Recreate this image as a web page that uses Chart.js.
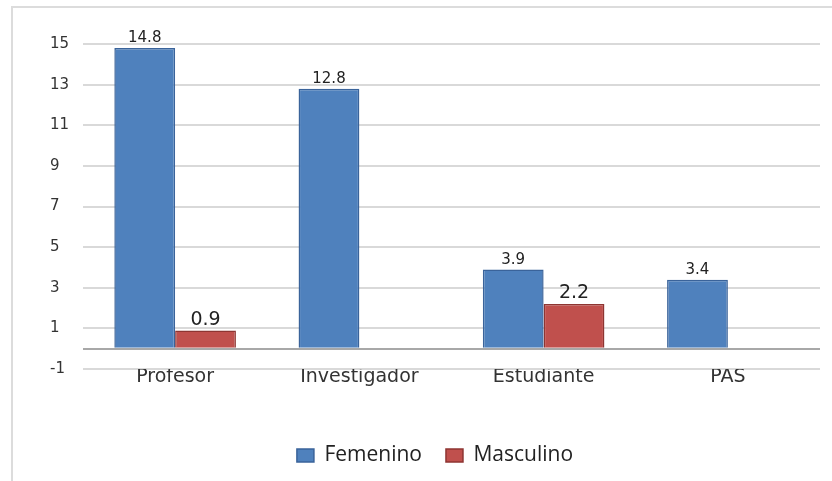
<!DOCTYPE html>
<html>
<head>
<meta charset="utf-8">
<script src="https://cdn.jsdelivr.net/npm/chart.js@4/dist/chart.umd.min.js"></script>
<style>
  html, body { margin: 0; padding: 0; background: #fff; }
  #wrap { position: relative; width: 832px; height: 481px; }
  #frame { position: absolute; left: 11px; top: 6px; right: 0; bottom: 0;
           border-top: 2px solid #dcdcdc; border-left: 2px solid #dcdcdc; pointer-events: none; }
  canvas { position: absolute; left: 0; top: 0; }
</style>
</head>
<body>
<div id="wrap">
  <canvas id="c" width="832" height="481"></canvas>
  <div id="frame"></div>
</div>
<script>
const categories = ['Profesor', 'Investigador', 'Estudiante', 'PAS'];
const seriesNames = ['Femenino', 'Masculino'];
const femenino = [14.8, 12.8, 3.9, 3.4];
const masculino = [0.9, null, 2.2, null];
const yMin = -1;
const yMax = 15;

const valueLabels = {
  id: 'valueLabels',
  afterDatasetsDraw(chart) {
    const ctx = chart.ctx;
    chart.data.datasets.forEach((ds, di) => {
      const meta = chart.getDatasetMeta(di);
      meta.data.forEach((bar, i) => {
        const v = ds.data[i];
        if (v === null || v === undefined) return;
        ctx.save();
        ctx.fillStyle = '#222';
        ctx.textAlign = 'center';
        ctx.textBaseline = 'bottom';
        ctx.font = (di === 0 ? '15px' : '19px') + ' "DejaVu Sans"';
        ctx.fillText(v.toFixed(1), bar.x, bar.y - (di === 0 ? 2 : 1));
        ctx.restore();
      });
    });
  }
};

new Chart(document.getElementById('c'), {
  type: 'bar',
  data: {
    labels: categories,
    datasets: [
      { label: seriesNames[0], data: femenino, backgroundColor: '#4F81BD', borderColor: '#3A639A', borderWidth: 1.5 },
      { label: seriesNames[1], data: masculino, backgroundColor: '#C0504D', borderColor: '#8E3532', borderWidth: 1.5 }
    ]
  },
  options: {
    responsive: false,
    animation: false,
    events: [],
    layout: { padding: { left: 50, right: 12, top: 44, bottom: 5 } },
    datasets: { bar: { categoryPercentage: 0.66, barPercentage: 1.0 } },
    scales: {
      x: {
        grid: { display: false },
        border: { display: false },
        ticks: { color: '#333', font: { family: 'DejaVu Sans', size: 19 }, padding: -11 },
        afterFit(scale) { scale.height = 52; }
      },
      y: {
        min: yMin, max: yMax,
        border: { display: false },
        grid: {
          drawTicks: false,
          lineWidth: 2,
          color: (c) => {
            const v = c.tick ? c.tick.value : null;
            if (v === 0) return '#a8a8a8';
            if (v !== null && Math.abs(v) % 2 === 1) return '#d9d9d9';
            return 'rgba(0,0,0,0)';
          }
        },
        ticks: {
          stepSize: 1,
          autoSkip: false,
          crossAlign: 'far',
          color: '#333',
          font: { family: 'DejaVu Sans', size: 15 },
          callback: (v) => (Math.abs(v) % 2 === 1 ? String(v) : '')
        },
        afterFit(scale) { scale.width = 33; }
      }
    },
    plugins: {
      legend: {
        position: 'bottom',
        labels: {
          color: '#222',
          font: { family: 'Open Sans', size: 21 },
          boxWidth: 17, boxHeight: 13,
          padding: 24
        }
      },
      tooltip: { enabled: false }
    }
  },
  plugins: [valueLabels]
});
</script>
</body>
</html>
